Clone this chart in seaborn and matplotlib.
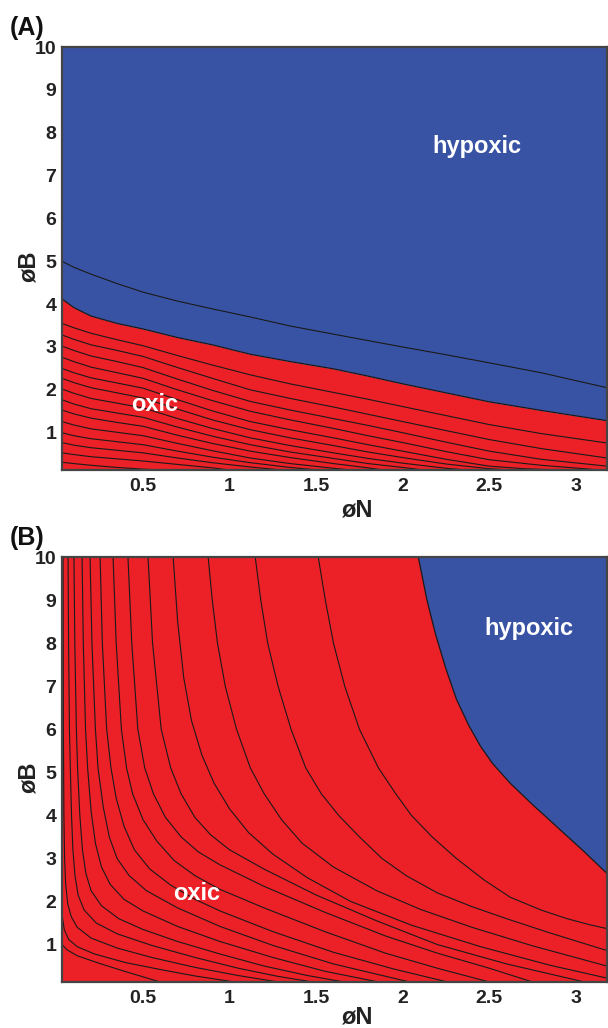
import matplotlib
matplotlib.use("Agg")
import matplotlib.pyplot as plt
import seaborn as sns

# colours
RED = "#EC2027"
BLUE = "#3953A4"

X_MIN, X_MAX = 0.032, 3.18
Y_MIN, Y_MAX = 0.13, 10

x_ticks = [0.5, 1, 1.5, 2, 2.5, 3]
x_tick_labels = ["0.5", "1", "1.5", "2", "2.5", "3"]
y_ticks = [1, 2, 3, 4, 5, 6, 7, 8, 9, 10]

# ---- panel A ----
a_border_x = [0.032, 0.1, 0.2, 0.35, 0.5, 0.7, 0.9, 1.12, 1.35, 1.6, 1.8, 2.0, 2.25, 2.5, 2.8, 3.18]
a_border_y = [4.12, 3.92, 3.72, 3.55, 3.42, 3.22, 3.05, 2.83, 2.66, 2.49, 2.32, 2.14, 1.93, 1.72, 1.52, 1.28]

a_upper_x = [0.032, 0.1, 0.2, 0.35, 0.5, 0.7, 0.9, 1.12, 1.35, 1.6, 1.8, 2.0, 2.25, 2.5, 2.8, 3.18]
a_upper_y = [5.0, 4.86, 4.70, 4.48, 4.28, 4.07, 3.89, 3.70, 3.49, 3.30, 3.15, 3.0, 2.82, 2.63, 2.40, 2.05]

a_lines_x = [
    [0.032, 0.1, 0.2, 0.35, 0.5, 0.7, 0.9, 1.12, 1.35, 1.6, 1.8, 2.0, 2.25, 2.5, 2.8, 3.18],
    [0.032, 0.1, 0.2, 0.35, 0.5, 0.7, 0.9, 1.12, 1.35, 1.6, 1.8, 2.0, 2.25, 2.5, 2.8, 3.18],
    [0.032, 0.1, 0.2, 0.35, 0.5, 0.7, 0.9, 1.12, 1.35, 1.6, 1.8, 2.0, 2.25, 2.5, 2.8, 3.18],
    [0.032, 0.1, 0.2, 0.35, 0.5, 0.7, 0.9, 1.12, 1.35, 1.6, 1.8, 2.0, 2.25, 2.5, 2.8, 3.14],
    [0.032, 0.1, 0.2, 0.35, 0.5, 0.7, 0.9, 1.12, 1.35, 1.6, 1.8, 2.0, 2.25, 2.5, 2.7, 2.91],
    [0.032, 0.1, 0.2, 0.35, 0.5, 0.7, 0.9, 1.12, 1.35, 1.6, 1.8, 2.0, 2.25, 2.5, 2.62],
    [0.032, 0.1, 0.2, 0.35, 0.5, 0.7, 0.9, 1.12, 1.35, 1.6, 1.8, 2.0, 2.25, 2.37],
    [0.032, 0.1, 0.2, 0.35, 0.5, 0.7, 0.9, 1.12, 1.35, 1.6, 1.8, 2.0, 2.12],
    [0.032, 0.1, 0.2, 0.35, 0.5, 0.7, 0.9, 1.12, 1.35, 1.6, 1.8, 1.89],
    [0.032, 0.1, 0.2, 0.35, 0.5, 0.7, 0.9, 1.12, 1.35, 1.6, 1.70],
    [0.032, 0.1, 0.2, 0.35, 0.5, 0.7, 0.9, 1.12, 1.35, 1.51],
    [0.032, 0.1, 0.2, 0.35, 0.5, 0.7, 0.9, 1.12, 1.30],
    [0.032, 0.1, 0.2, 0.35, 0.5, 0.7, 0.9, 1.0],
    [0.032, 0.1, 0.2, 0.35, 0.5, 0.6],
]
a_lines_y = [
    [3.55, 3.45, 3.32, 3.17, 3.03, 2.80, 2.58, 2.35, 2.14, 1.94, 1.78, 1.61, 1.40, 1.19, 0.98, 0.76],
    [3.28, 3.18, 3.05, 2.92, 2.78, 2.52, 2.27, 2.00, 1.80, 1.60, 1.43, 1.26, 1.05, 0.84, 0.63, 0.41],
    [3.02, 2.92, 2.79, 2.66, 2.52, 2.25, 1.99, 1.73, 1.53, 1.33, 1.17, 1.00, 0.78, 0.57, 0.38, 0.22],
    [2.76, 2.66, 2.53, 2.40, 2.27, 2.00, 1.75, 1.50, 1.30, 1.10, 0.93, 0.77, 0.56, 0.37, 0.24, 0.13],
    [2.50, 2.40, 2.28, 2.16, 2.04, 1.77, 1.51, 1.26, 1.07, 0.88, 0.72, 0.57, 0.38, 0.22, 0.16, 0.13],
    [2.27, 2.17, 2.05, 1.93, 1.81, 1.55, 1.30, 1.07, 0.88, 0.70, 0.55, 0.42, 0.27, 0.16, 0.13],
    [2.02, 1.92, 1.80, 1.69, 1.58, 1.33, 1.10, 0.88, 0.70, 0.53, 0.40, 0.29, 0.17, 0.13],
    [1.77, 1.67, 1.56, 1.46, 1.36, 1.13, 0.92, 0.72, 0.55, 0.40, 0.28, 0.19, 0.13],
    [1.53, 1.44, 1.34, 1.24, 1.15, 0.94, 0.75, 0.57, 0.42, 0.28, 0.18, 0.13],
    [1.26, 1.18, 1.09, 1.01, 0.93, 0.75, 0.58, 0.41, 0.28, 0.17, 0.13],
    [1.00, 0.93, 0.86, 0.79, 0.72, 0.57, 0.43, 0.30, 0.19, 0.13],
    [0.77, 0.71, 0.65, 0.59, 0.53, 0.41, 0.30, 0.20, 0.13],
    [0.53, 0.49, 0.44, 0.39, 0.34, 0.26, 0.18, 0.13],
    [0.31, 0.28, 0.24, 0.19, 0.15, 0.13],
]

# ---- panel B ----
b_border_x = [2.09, 2.14, 2.19, 2.25, 2.31, 2.38, 2.45, 2.52, 2.62, 2.75, 2.9, 3.05, 3.18]
b_border_y = [10.0, 9.0, 8.2, 7.4, 6.7, 6.1, 5.6, 5.2, 4.75, 4.25, 3.7, 3.15, 2.65]

b_lines_x = [
    [0.032, 0.06, 0.12, 0.25, 0.4, 0.5, 0.6],
    [0.032, 0.045, 0.07, 0.12, 0.22, 0.4, 0.6, 0.8, 1.03],
    [0.038, 0.040, 0.043, 0.047, 0.053, 0.065, 0.085, 0.12, 0.2, 0.35, 0.55, 0.8, 1.05, 1.28],
    [0.067, 0.07, 0.075, 0.08, 0.087, 0.095, 0.107, 0.125, 0.16, 0.23, 0.35, 0.55, 0.8, 1.05, 1.28, 1.48],
    [0.101, 0.106, 0.115, 0.122, 0.135, 0.15, 0.17, 0.2, 0.26, 0.36, 0.5, 0.7, 0.945, 1.2, 1.45, 1.66],
    [0.148, 0.155, 0.168, 0.18, 0.2, 0.225, 0.26, 0.31, 0.39, 0.5, 0.7, 0.945, 1.25, 1.55, 1.86],
    [0.194, 0.205, 0.225, 0.24, 0.27, 0.305, 0.35, 0.42, 0.52, 0.7, 0.945, 1.25, 1.6, 2.04],
    [0.252, 0.265, 0.29, 0.315, 0.345, 0.39, 0.45, 0.54, 0.66, 0.8, 0.945, 1.25, 1.6, 1.95, 2.26],
    [0.327, 0.345, 0.375, 0.405, 0.44, 0.5, 0.58, 0.68, 0.8, 0.945, 1.2, 1.55, 1.9, 2.2, 2.5],
    [0.413, 0.435, 0.47, 0.51, 0.56, 0.63, 0.72, 0.82, 0.945, 1.2, 1.55, 1.9, 2.2, 2.5, 2.75],
    [0.529, 0.555, 0.605, 0.66, 0.72, 0.8, 0.89, 1.0, 1.2, 1.5, 1.85, 2.2, 2.6, 3.05],
    [0.674, 0.70, 0.735, 0.78, 0.84, 0.91, 1.0, 1.11, 1.25, 1.45, 1.7, 2.05, 2.45, 2.85, 3.18],
    [0.876, 0.90, 0.93, 0.975, 1.04, 1.12, 1.2, 1.3, 1.42, 1.6, 1.85, 2.1, 2.4, 2.75, 3.18],
    [1.148, 1.18, 1.22, 1.28, 1.355, 1.44, 1.53, 1.63, 1.75, 1.88, 2.02, 2.2, 2.4, 2.6, 2.85, 3.18],
    [1.512, 1.553, 1.60, 1.665, 1.75, 1.86, 1.96, 2.05, 2.17, 2.31, 2.47, 2.62, 2.8, 2.95, 3.08, 3.18],
]
b_lines_y = [
    [1.0, 0.88, 0.74, 0.56, 0.37, 0.25, 0.13],
    [1.7, 1.35, 1.12, 0.95, 0.78, 0.58, 0.42, 0.27, 0.13],
    [10.0, 6.0, 4.0, 3.0, 2.4, 1.95, 1.65, 1.4, 1.15, 0.92, 0.7, 0.47, 0.28, 0.13],
    [10.0, 8.0, 6.0, 5.1, 4.0, 3.2, 2.6, 2.15, 1.8, 1.5, 1.25, 0.98, 0.7, 0.45, 0.26, 0.13],
    [10.0, 8.0, 6.0, 5.1, 4.0, 3.2, 2.65, 2.25, 1.9, 1.6, 1.35, 1.07, 0.78, 0.5, 0.28, 0.13],
    [10.0, 8.0, 6.0, 5.1, 4.1, 3.35, 2.8, 2.4, 2.05, 1.78, 1.42, 1.07, 0.7, 0.38, 0.13],
    [10.0, 8.0, 6.0, 5.1, 4.2, 3.5, 3.0, 2.6, 2.25, 1.85, 1.42, 0.98, 0.55, 0.13],
    [10.0, 8.0, 6.0, 5.1, 4.4, 3.75, 3.2, 2.75, 2.38, 2.05, 1.78, 1.3, 0.82, 0.43, 0.13],
    [10.0, 8.0, 6.0, 5.1, 4.5, 3.9, 3.4, 2.95, 2.6, 2.28, 1.85, 1.3, 0.8, 0.45, 0.13],
    [10.0, 8.0, 6.0, 5.1, 4.5, 3.95, 3.5, 3.15, 2.85, 2.35, 1.75, 1.2, 0.8, 0.45, 0.13],
    [10.0, 8.0, 6.0, 5.1, 4.5, 3.95, 3.55, 3.2, 2.75, 2.15, 1.55, 1.0, 0.55, 0.13],
    [10.0, 8.5, 7.2, 6.2, 5.4, 4.75, 4.15, 3.6, 3.1, 2.55, 2.0, 1.45, 0.95, 0.52, 0.22],
    [10.0, 9.0, 8.0, 7.0, 6.0, 5.1, 4.5, 3.9, 3.35, 2.8, 2.25, 1.82, 1.4, 0.97, 0.5],
    [10.0, 9.0, 8.0, 7.0, 6.0, 5.1, 4.5, 4.0, 3.5, 3.0, 2.6, 2.2, 1.88, 1.6, 1.27, 0.86],
    [10.0, 9.0, 8.0, 7.0, 6.0, 5.1, 4.5, 4.0, 3.5, 3.0, 2.5, 2.1, 1.8, 1.6, 1.46, 1.37],
]

sns.set_theme(style="white")
plt.rcParams["font.family"] = ["Liberation Sans", "DejaVu Sans"]
plt.rcParams["font.weight"] = "bold"

fig = plt.figure(figsize=(6.08, 10.28), dpi=100)
ax_a = fig.add_axes([62 / 608, 1 - 470 / 1028, 545 / 608, 423 / 1028])
ax_b = fig.add_axes([62 / 608, 1 - 982 / 1028, 545 / 608, 425 / 1028])


def line(ax, xs, ys, lw=0.8):
    sns.lineplot(x=xs, y=ys, ax=ax, color="#1a1a1a", lw=lw, sort=False,
                 estimator=None, legend=False, solid_joinstyle="round")


def dress(ax, panel, xlab_y):
    ax.set_xlim(X_MIN, X_MAX)
    ax.set_ylim(Y_MIN, Y_MAX)
    ax.set_xticks(x_ticks)
    ax.set_xticklabels(x_tick_labels)
    ax.set_yticks(y_ticks)
    ax.tick_params(direction="in", length=4, width=1.3, colors="#3a3a3a",
                   labelcolor="#222222", labelsize=14, top=True, right=True,
                   labeltop=False, labelright=False)
    ax.tick_params(axis="x", pad=6)
    ax.tick_params(axis="y", pad=4)
    for lab in ax.get_xticklabels() + ax.get_yticklabels():
        lab.set_fontweight("bold")
    for sp in ax.spines.values():
        sp.set_color("#444444")
        sp.set_linewidth(1.6)
        sp.set_visible(True)
    ax.set_xlabel("øN", fontsize=17, fontweight="bold", color="#222222")
    ax.set_ylabel("øB", fontsize=17, fontweight="bold", color="#222222")
    ax.xaxis.set_label_coords(0.541, xlab_y)
    ax.yaxis.set_label_coords(-0.04, 0.48)
    ax.text(-0.095, 1.045, panel, transform=ax.transAxes, fontsize=18,
            fontweight="bold", color="#111111", ha="left", va="center")


# panel A
ax_a.fill_between(a_border_x, Y_MIN, a_border_y, color=RED, lw=0)
ax_a.fill_between(a_border_x, a_border_y, Y_MAX, color=BLUE, lw=0)
line(ax_a, a_border_x, a_border_y, lw=0.9)
line(ax_a, a_upper_x, a_upper_y)
for xs, ys in zip(a_lines_x, a_lines_y):
    line(ax_a, xs, ys)
ax_a.text(2.43, 7.67, "hypoxic", color="white", fontsize=17,
          fontweight="bold", ha="center", va="center")
ax_a.text(0.57, 1.65, "oxic", color="white", fontsize=17,
          fontweight="bold", ha="center", va="center")
dress(ax_a, "(A)", -0.068)

# panel B
ax_b.fill_between([X_MIN, X_MAX], Y_MIN, Y_MAX, color=RED, lw=0)
ax_b.fill(b_border_x + [X_MAX], b_border_y + [Y_MAX], color=BLUE, lw=0)
line(ax_b, b_border_x, b_border_y, lw=0.9)
for xs, ys in zip(b_lines_x, b_lines_y):
    line(ax_b, xs, ys)
ax_b.text(2.73, 8.33, "hypoxic", color="white", fontsize=17,
          fontweight="bold", ha="center", va="center")
ax_b.text(0.81, 2.19, "oxic", color="white", fontsize=17,
          fontweight="bold", ha="center", va="center")
dress(ax_b, "(B)", -0.055)

fig.savefig("out.png", dpi=100)
